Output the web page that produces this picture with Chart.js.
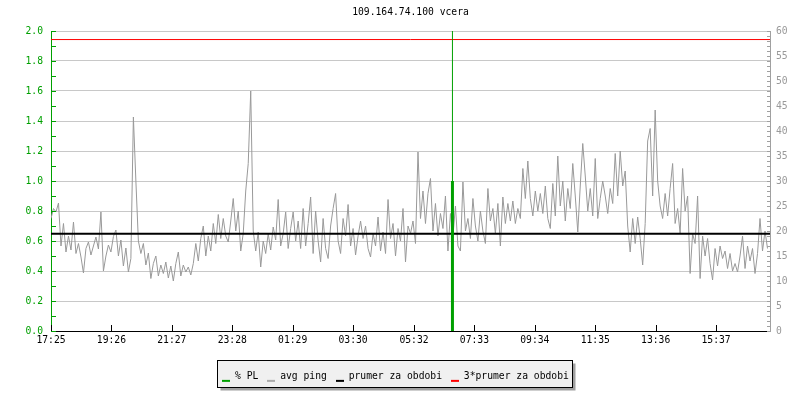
<!DOCTYPE html>
<html>
<head>
<meta charset="utf-8">
<script src="https://cdn.jsdelivr.net/npm/chart.js@4"></script>
<style>
  html, body { margin: 0; padding: 0; background: #fff; }
  canvas { display: block; }
</style>
</head>
<body>
<canvas id="pingChart" width="800" height="400"></canvas>
<script>
const chartTitle = '109.164.74.100 vcera';
const startTime = '17:25';
const spanMinutes = 1440;
const xTickLabels = ['17:25', '19:26', '21:27', '23:28', '01:29', '03:30',
                     '05:32', '07:33', '09:34', '11:35', '13:36', '15:37'];

// avg ping in ms, one sample every 5 minutes from 17:25
const pingStep = 5;
const avgPing = [
  22.5, 24.5, 23.8, 25.6, 17.0, 21.5, 15.8, 19.0, 16.2, 21.8,
  15.5, 17.5, 14.8, 11.6, 16.5, 17.8, 15.2, 17.0, 18.8, 16.4,
  23.8, 12.0, 15.0, 17.2, 15.8, 18.9, 20.2, 15.0, 18.2, 13.0,
  16.6, 11.8, 14.5, 42.8, 30.0, 18.0, 15.5, 17.5, 13.2, 15.6,
  10.5, 13.5, 15.0, 11.0, 13.2, 11.5, 13.8, 10.6,
  13.0, 10.0, 13.5, 15.8, 11.0, 13.2, 11.8, 12.8, 11.2, 13.5,
  17.5, 14.0, 18.5, 21.0, 15.0, 19.0, 16.0, 21.5, 17.5, 23.3,
  18.5, 22.5, 19.0, 17.8, 22.0, 26.5, 20.0, 24.0, 16.0, 19.5,
  28.0, 33.5, 48.0, 20.0, 16.0, 19.8, 12.8, 18.0, 15.5, 19.5,
  16.2, 20.8, 18.2, 26.3, 17.0, 19.5, 23.8, 16.5,
  20.5, 23.8, 18.0, 22.0, 16.5, 24.5, 17.0, 21.5, 26.8, 15.5,
  24.0, 18.0, 13.8, 22.5, 16.5, 14.5, 21.0, 24.5, 27.5, 18.0,
  15.5, 22.5, 19.0, 25.3, 17.0, 20.5, 15.2, 19.0, 22.0, 18.5,
  21.0, 16.5, 14.8, 19.5, 17.0, 22.8, 16.0, 19.8, 15.5, 26.3,
  18.5, 21.5, 15.0, 20.5, 18.0, 24.5, 13.8, 21.0,
  19.5, 22.0, 17.5, 35.8, 22.5, 28.0, 21.5, 27.5, 30.5, 20.0,
  25.5, 19.0, 23.5, 20.5, 27.0, 16.0, 23.5, 19.0, 25.0, 17.0,
  16.0, 29.8, 20.0, 22.5, 18.5, 26.5, 21.0, 18.0, 24.0, 20.0,
  17.5, 28.5, 22.0, 24.5, 19.5, 25.5, 17.0, 26.8, 21.5, 25.5,
  22.0, 26.0, 21.5, 24.5, 22.5, 32.5, 26.5, 34.0,
  26.5, 23.0, 28.0, 24.0, 27.5, 23.5, 29.0, 22.5, 20.5, 29.5,
  23.0, 35.0, 25.0, 30.0, 22.0, 28.5, 24.5, 33.5, 27.0, 19.8,
  29.0, 37.5, 31.0, 24.0, 28.5, 23.0, 34.5, 22.5, 26.5, 30.0,
  27.0, 23.5, 28.5, 25.5, 35.5, 27.0, 36.0, 29.0, 32.0, 21.0,
  15.8, 22.5, 17.5, 22.8, 18.5, 13.2, 21.5, 38.0,
  40.5, 27.0, 44.2, 30.0, 25.0, 22.5, 27.5, 23.0, 28.5, 33.5,
  21.5, 24.5, 19.5, 32.5, 24.0, 27.0, 11.5, 19.5, 17.5, 27.0,
  10.5, 19.0, 15.0, 18.5, 13.5, 10.2, 16.5, 13.0, 17.0, 14.5,
  16.0, 12.5, 15.5, 12.0, 13.5, 11.8, 15.0, 19.0, 12.5, 17.0,
  14.0, 16.5, 11.5, 15.5, 22.5, 16.0, 20.0, 16.5
];

const meanPing = 19.43;     // prumer za obdobi (ms)
const plTime = '06:49';     // packet loss event
const plBar = [0, 1.0];     // % PL
const plSpike = [1.0, 2.0]; // thin part above the bar

const GREEN = '#00a000';
const PING_GRAY = '#999999';
const RED = '#ff0000';

function minutesFromStart(hhmm) {
  const p = hhmm.split(':').map(Number);
  const s = startTime.split(':').map(Number);
  return ((p[0] * 60 + p[1]) - (s[0] * 60 + s[1]) + 1440) % 1440;
}
const xTickMinutes = xTickLabels.map(minutesFromStart);
const plMinute = minutesFromStart(plTime);

function lineMarker(color) {
  const c = document.createElement('canvas');
  c.width = 8; c.height = 12;
  const g = c.getContext('2d');
  g.fillStyle = color;
  g.fillRect(0, 9, 8, 2);
  return c;
}

// rrdtool-like ticks pointing into the plot
const innerTicks = {
  id: 'innerTicks',
  afterDatasetsDraw(chart) {
    const { ctx, chartArea: a, scales } = chart;
    ctx.save();
    ctx.lineWidth = 1;
    ctx.strokeStyle = GREEN;
    for (let k = 0; k <= 20; k++) {
      const y = Math.round(scales.y.getPixelForValue(k / 10)) + 0.5;
      ctx.beginPath(); ctx.moveTo(a.left, y); ctx.lineTo(a.left + 5, y); ctx.stroke();
    }
    ctx.strokeStyle = '#a0a0a0';
    for (let k = 0; k <= 60; k++) {
      const y = Math.round(scales.y2.getPixelForValue(k)) + 0.5;
      ctx.beginPath(); ctx.moveTo(a.right - 3, y); ctx.lineTo(a.right, y); ctx.stroke();
    }
    ctx.strokeStyle = '#000';
    xTickMinutes.forEach(m => {
      const x = Math.round(scales.x.getPixelForValue(m)) + 0.5;
      ctx.beginPath(); ctx.moveTo(x, a.bottom); ctx.lineTo(x, a.bottom - 6); ctx.stroke();
    });
    ctx.restore();
  }
};

// framed legend box with a drop shadow
const legendFrame = {
  id: 'legendFrame',
  beforeDraw(chart) {
    const boxes = chart.legend && chart.legend.legendHitBoxes;
    if (!boxes || !boxes.length) return;
    const first = boxes[0], last = boxes[boxes.length - 1];
    const mid = first.top + first.height / 2;
    const l = Math.round(first.left - 5) + 0.5;
    const r = Math.round(last.left + last.width + 3) + 0.5;
    const t = Math.round(mid - 17) + 0.5;
    const b = Math.round(mid + 10) + 0.5;
    const ctx = chart.ctx;
    ctx.save();
    ctx.fillStyle = '#a0a0a0';
    ctx.fillRect(l + 3, t + 3, r - l, b - t);
    ctx.fillStyle = '#f0f0f0';
    ctx.fillRect(l, t, r - l, b - t);
    ctx.strokeStyle = '#000';
    ctx.lineWidth = 1;
    ctx.strokeRect(l, t, r - l, b - t);
    ctx.restore();
  }
};

Chart.defaults.font.family = "'DejaVu Sans Mono', monospace";
Chart.defaults.font.size = 9.7;
Chart.defaults.color = '#000';

const legendColors = [GREEN, '#aaaaaa', '#000000', RED];

new Chart(document.getElementById('pingChart'), {
  type: 'line',
  data: {
    datasets: [
      {
        label: '% PL',
        data: plBar.map(v => ({ x: plMinute, y: v })),
        borderColor: GREEN, borderWidth: 3, yAxisID: 'y', order: 0
      },
      {
        label: 'avg ping',
        data: avgPing.map((v, i) => ({ x: i * pingStep, y: v })),
        borderColor: PING_GRAY, borderWidth: 1, yAxisID: 'y2', order: 3
      },
      {
        label: 'prumer za obdobi',
        data: [{ x: 0, y: meanPing }, { x: spanMinutes, y: meanPing }],
        borderColor: '#000', borderWidth: 2, yAxisID: 'y2', order: 1
      },
      {
        label: '3*prumer za obdobi',
        data: [{ x: 0, y: 3 * meanPing }, { x: spanMinutes, y: 3 * meanPing }],
        borderColor: RED, borderWidth: 1, yAxisID: 'y2', order: 2
      },
      {
        label: 'pl-spike',
        data: plSpike.map(v => ({ x: plMinute, y: v })),
        borderColor: GREEN, borderWidth: 1, yAxisID: 'y', order: 0
      }
    ]
  },
  options: {
    responsive: false,
    animation: false,
    devicePixelRatio: 1,
    elements: { point: { radius: 0 }, line: { tension: 0 } },
    layout: { padding: { top: 0, left: 0, right: 9, bottom: 8.3 } },
    scales: {
      x: {
        type: 'linear', position: 'bottom', min: 0, max: spanMinutes,
        afterBuildTicks: s => { s.ticks = xTickMinutes.map(v => ({ value: v })); },
        afterFit: s => { s.height = 32; },
        ticks: { autoSkip: false, maxRotation: 0, color: '#000', padding: 4,
                 callback: (v, i) => xTickLabels[i] },
        grid: { display: false, drawTicks: false },
        border: { color: '#000', width: 1 }
      },
      y: {
        position: 'left', min: 0, max: 2,
        afterFit: s => { s.width = 51; },
        ticks: { stepSize: 0.2, color: GREEN, padding: 8, callback: v => v.toFixed(1) },
        grid: { drawTicks: false,
                color: c => (c.tick && c.tick.value === 0 ? 'rgba(0,0,0,0)' : '#c8c8c8') },
        border: { color: GREEN, width: 1 }
      },
      y2: {
        position: 'right', min: 0, max: 60,
        afterFit: s => { s.width = 21; },
        ticks: { stepSize: 5, color: '#999999', padding: 6 },
        grid: { display: false, drawTicks: false },
        border: { color: '#a0a0a0', width: 1 }
      }
    },
    plugins: {
      title: {
        display: true, text: chartTitle, fullSize: false, color: '#000',
        font: { size: 9.7, weight: 'normal' },
        padding: { top: 7, bottom: 12.36 }
      },
      legend: {
        position: 'bottom',
        labels: {
          usePointStyle: true, pointStyleWidth: 8, padding: 9, color: '#000',
          generateLabels: chart => chart.data.datasets.slice(0, 4).map((ds, i) => ({
            text: ds.label,
            pointStyle: lineMarker(legendColors[i]),
            fillStyle: legendColors[i], strokeStyle: legendColors[i],
            lineWidth: 0, hidden: false, datasetIndex: i, fontColor: '#000'
          }))
        },
        onClick: () => {}
      },
      tooltip: { enabled: false }
    }
  },
  plugins: [innerTicks, legendFrame]
});
</script>
</body>
</html>
